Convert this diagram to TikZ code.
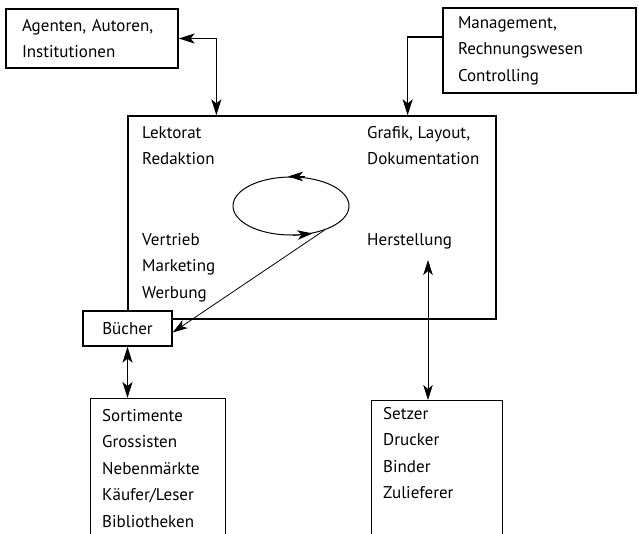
\documentclass[tikz,border=0pt]{standalone}
\usepackage{fontspec}
\setmainfont{PT Sans}
\usetikzlibrary{arrows.meta,shapes.geometric,positioning}

\tikzset{
  kasten/.style={draw, line width=1.3pt, fill=white},
  schrift/.style={font=\fontsize{17}{26.5}\selectfont},
  liste/.style={schrift, align=left, inner sep=0pt, anchor=north west},
  pfeil/.style={line width=1.3pt, >={Stealth[length=16pt,width=10pt,inset=4pt]}},
  duenn/.style={line width=0.8pt, >={Stealth[length=15pt,width=9.5pt,inset=4pt]}},
}

\begin{document}
\begin{tikzpicture}[x=1pt,y=-1pt]
        \useasboundingbox (0,0) rectangle (639,533);
        \clip (0,0) rectangle (639,533);

        % Verlag
        \node[kasten, minimum width=368, minimum height=203] (verlag) at (312,217.5) {};
        \node[liste] (lektorat) at (142,126) {Lektorat\\Redaktion};
        \node[liste] (grafik) at (367,126) {Grafik, Layout,\\Dokumentation};
        \node[liste] (vertrieb) at (142,233) {Vertrieb\\Marketing\\Werbung};
        \node[liste] (herstellung) at (367,233) {Herstellung};
        \node[draw, ellipse, line width=1pt, inner sep=0pt, minimum width=116, minimum height=58] (zyklus) at (291,206) {};

        % Umfeld oben
        \node[kasten, schrift, align=left, text width=140, inner xsep=16, minimum height=59] (agenten) at (92,38.5) {Agenten, Autoren,\\Institutionen};
        \node[kasten, schrift, align=left, text width=163, inner xsep=15, minimum height=85] (management) at (539.5,50.5) {Management,\\Rechnungswesen\\Controlling};

        % Umfeld unten
        \node[kasten, schrift, minimum width=89, minimum height=35] (buecher) at (127.5,328.5) {Bücher};
        \node[kasten, line width=1pt, anchor=north west, minimum width=135, minimum height=160] (markt) at (90,398) {};
        \node[liste] (sortimente) at (102,409) {Sortimente\\Grossisten\\Nebenmärkte\\Käufer/Leser\\Bibliotheken};
        \node[kasten, line width=1pt, anchor=north west, minimum width=131, minimum height=160] (zulieferer) at (371,400) {};
        \node[liste] (setzer) at (383,407) {Setzer\\Drucker\\Binder\\Zulieferer};
        \coordinate (herst-pfeil) at (428,260);

        \draw[pfeil, <->] (agenten.east) -| ([xshift=89]verlag.north west);
        \draw[pfeil, ->] ([yshift=13.5]management.west) -| ([xshift=-89]verlag.north east);
        \draw[duenn, ->] ([xshift=14]zyklus.north) -- ([xshift=-3]zyklus.north);
        \draw[duenn, ->] ([xshift=2]zyklus.south) -- (zyklus.-52);
        \draw[duenn, ->] (zyklus.-36) -- ([yshift=-4]buecher.east);
        \draw[pfeil, <->] (buecher.south) -- (buecher.south |- markt.north);
        \draw[duenn, <->] (herst-pfeil) -- (herst-pfeil |- zulieferer.north);
    \end{tikzpicture}
\end{document}
